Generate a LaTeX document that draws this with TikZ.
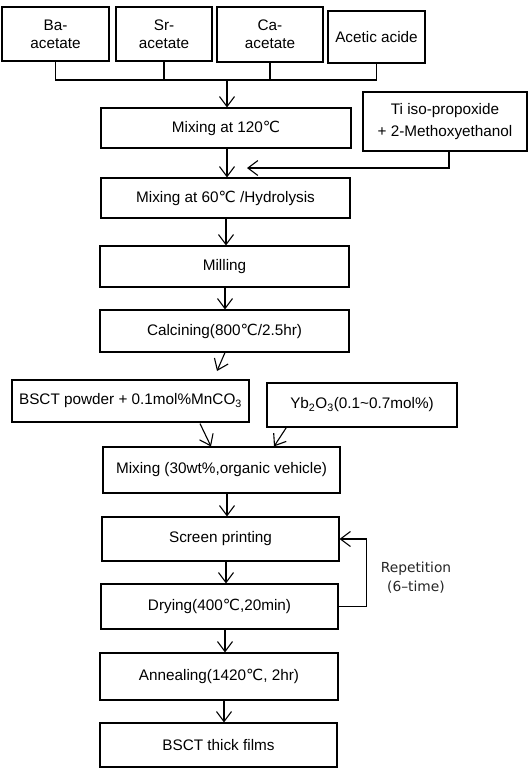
\documentclass[tikz,border=0pt]{standalone}
\usepackage{fontspec}
\setmainfont{Liberation Sans}
\newfontfamily\dv{DejaVu Sans}
\usetikzlibrary{arrows.meta,calc}
\newcommand{\dC}{{\dv\char"2103}}
\begin{document}
\begin{tikzpicture}[x=1pt,y=-1pt,
  box/.style={draw,line width=1.1pt,inner sep=0pt,align=center,font=\fontsize{15.3}{18}\selectfont},
  arr/.style={line width=1.1pt,-{Straight Barb[length=10pt,width=15pt,line width=1.1pt]}},
  conn/.style={line width=1.1pt}]
\useasboundingbox (0,0) rectangle (531,769);
\fill[white] (0,0) rectangle (531,769);
\coordinate (ax) at (227,0);
\coordinate (bx) at (225,0);
% top row
\node[box,minimum width=107pt,minimum height=54pt] (ba) at (55.5,34) {Ba-\\acetate};
\node[box,minimum width=96pt,minimum height=54pt] (sr) at (164,34) {Sr-\\acetate};
\node[box,minimum width=106pt,minimum height=55pt] (ca) at (270,34.5) {Ca-\\acetate};
\node[box,minimum width=97pt,minimum height=52pt] (ac) at (376.5,37) {Acetic acide};
\coordinate (bus) at (0,80);
% main column
\node[box,minimum width=250pt,minimum height=40pt] (m120) at (226,128) {Mixing at 120\dC};
\node[box,minimum width=164pt,minimum height=59pt,font=\fontsize{15.3}{22}\selectfont] (ti) at (445,121.5) {Ti iso-propoxide\\+ 2-Methoxyethanol};
\node[box,minimum width=249pt,minimum height=40pt] (m60) at (225.5,198) {Mixing at 60\dC\ /Hydrolysis};
\node[box,minimum width=249pt,minimum height=41pt] (mill) at (224.5,266.5) {Milling};
\node[box,minimum width=249pt,minimum height=42pt] (calc) at (224.5,331) {Calcining(800\dC/2.5hr)};
\node[box,minimum width=237pt,minimum height=42pt] (bpow) at (130.5,401) {BSCT powder + 0.1mol\%MnCO\textsubscript{3}};
\node[box,minimum width=190pt,minimum height=44pt] (yb) at (362,405) {Yb\textsubscript{2}O\textsubscript{3}(0.1\textasciitilde0.7mol\%)};
\node[box,minimum width=237pt,minimum height=46pt] (mix) at (221.5,470) {Mixing (30wt\%,organic vehicle)};
\node[box,minimum width=237pt,minimum height=44pt] (scr) at (220.5,539) {Screen printing};
\node[box,minimum width=237pt,minimum height=45pt] (dry) at (219.5,606.5) {Drying(400\dC,20min)};
\node[box,minimum width=238pt,minimum height=47pt] (ann) at (219,676.5) {Annealing(1420\dC, 2hr)};
\node[box,minimum width=237pt,minimum height=44pt] (film) at (218.5,745) {BSCT thick films};
\node[align=center,inner sep=0pt,text=black!85,font=\dv\fontsize{13.8}{19}\selectfont] (rep) at (416,578) {Repetition\\(6\textendash time)};
% connectors
\draw[conn] (ba.south) -- (ba.south |- bus) -- (ac.south |- bus) -- (ac.south);
\draw[conn] (sr.south) -- (sr.south |- bus);
\draw[conn] (ca.south) -- (ca.south |- bus);
\draw[arr] (ax |- bus) -- (m120.north -| ax);
\coordinate (tiend) at (247,168);
\draw[arr] (ti.south -| 449,0) |- (tiend);
\draw[arr] (m120.south -| ax) -- (m60.north -| ax);
\draw[arr] (m60.south -| 226,0) -- (mill.north -| 226,0);
\draw[arr] (mill.south -| 225,0) -- (calc.north -| 225,0);
\coordinate (cend) at (217,371);
\draw[arr] (calc.south -| bx) -- (cend);
\draw[arr] ($(bpow.south)+(69.5,1)$) -- ($(mix.north)+(-10.5,0)$);
\draw[arr] ($(yb.south)+(-75,-1)$) -- ($(mix.north)+(52.5,0)$);
\draw[arr] (mix.south -| ax) -- (scr.north -| ax);
\draw[arr] (scr.south -| 226,0) -- (dry.north -| 226,0);
\draw[arr] (dry.south -| bx) -- (ann.north -| bx);
\draw[arr] (ann.south -| 224,0) -- (film.north -| 224,0);
\draw[arr] (dry.east) -- ++(28,0) |- (scr.east);
\end{tikzpicture}
\end{document}
